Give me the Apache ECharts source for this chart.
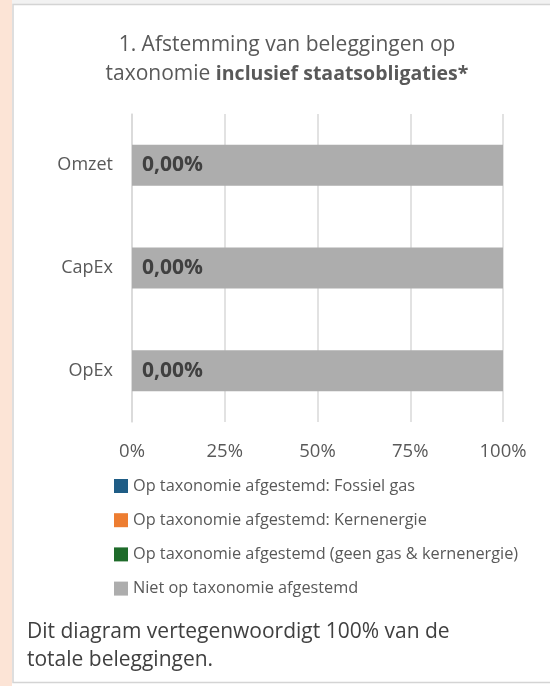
<!DOCTYPE html>
<html>
<head>
<meta charset="utf-8">
<script src="https://cdn.jsdelivr.net/npm/echarts@6/dist/echarts.min.js"></script>
<style>
html,body{margin:0;padding:0;background:#ffffff;}
#chart{width:550px;height:686px;}
</style>
</head>
<body>
<div id="chart"></div>
<script>
const categories = ['Omzet', 'CapEx', 'OpEx'];
const fossielGas = [0, 0, 0];
const kernenergie = [0, 0, 0];
const groen = [0, 0, 0];
const nietAfgestemd = [100, 100, 100];
const xTicks = [0, 25, 50, 75, 100];
const seriesNames = [
  'Op taxonomie afgestemd: Fossiel gas',
  'Op taxonomie afgestemd: Kernenergie',
  'Op taxonomie afgestemd (geen gas & kernenergie)',
  'Niet op taxonomie afgestemd'
];
const colors = ['#1f5d86', '#ed7d31', '#1e6b2a', '#adadad'];

const FONT = 'Open Sans';
const chart = echarts.init(document.getElementById('chart'), null, {renderer: 'canvas'});

function fmt(v){ return v.toFixed(2).replace('.', ',') + '%'; }

const dataArrays = [fossielGas, kernenergie, groen, nietAfgestemd];
const series = dataArrays.map((arr, i) => ({
  name: seriesNames[i],
  type: 'bar',
  stack: 'total',
  barWidth: '40%',
  itemStyle: {color: colors[i]},
  data: arr,
  label: i === 3 ? {
    show: true,
    position: 'insideLeft',
    distance: 10,
    formatter: p => fmt(groen[p.dataIndex]),
    color: '#404040',
    fontFamily: FONT,
    fontWeight: 'bold',
    fontSize: 21
  } : {show: false}
}));

chart.setOption({
  animation: false,
  textStyle: {fontFamily: FONT},
  graphic: [
    {type: 'rect', shape: {x: 0, y: 0, width: 550, height: 4}, style: {fill: '#f2f2f2'}, z: -10},
    {type: 'rect', shape: {x: 0, y: 0, width: 12, height: 686}, style: {fill: '#fce4d6'}, z: -9},
    {type: 'rect', shape: {x: 13, y: 4.5, width: 545, height: 678}, style: {fill: 'none', stroke: '#d4d4d4', lineWidth: 1.5}, z: -8}
  ],
  title: [
    {
      text: '1. Afstemming van beleggingen op\ntaxonomie {b|inclusief staatsobligaties*}',
      left: 282,
      top: 26,
      textAlign: 'center',
      textStyle: {
        fontFamily: FONT, fontSize: 21, fontWeight: 'normal', color: '#595959', lineHeight: 29,
        rich: {b: {fontFamily: FONT, fontSize: 19.5, fontWeight: 'bold', color: '#595959', lineHeight: 29}}
      }
    },
    {
      text: 'Dit diagram vertegenwoordigt 100% van de\ntotale beleggingen.',
      left: 22,
      top: 613,
      textStyle: {fontFamily: FONT, fontSize: 21, fontWeight: 'normal', color: '#404040', lineHeight: 28}
    }
  ],
  legend: {
    orient: 'vertical',
    left: 109,
    top: 473,
    itemGap: 18.2,
    itemWidth: 14,
    itemHeight: 14,
    icon: 'rect',
    data: seriesNames,
    textStyle: {fontFamily: FONT, fontSize: 16.3, color: '#595959', padding: [0, 0, 0, 0]}
  },
  grid: {left: 132, right: 47, top: 114, bottom: 264, containLabel: false},
  xAxis: {
    type: 'value',
    min: xTicks[0],
    max: xTicks[xTicks.length - 1],
    interval: 25,
    axisLine: {show: false},
    axisTick: {show: false},
    splitLine: {show: true, lineStyle: {color: '#d9d9d9', width: 1.5}},
    axisLabel: {formatter: '{value}%', fontFamily: FONT, fontSize: 18.5, color: '#595959', margin: 20}
  },
  yAxis: {
    type: 'category',
    inverse: true,
    data: categories,
    axisLine: {show: true, lineStyle: {color: '#d9d9d9', width: 1.5}},
    axisTick: {show: false},
    axisLabel: {fontFamily: FONT, fontSize: 18, color: '#595959', margin: 19}
  },
  series: series
});
</script>
</body>
</html>
